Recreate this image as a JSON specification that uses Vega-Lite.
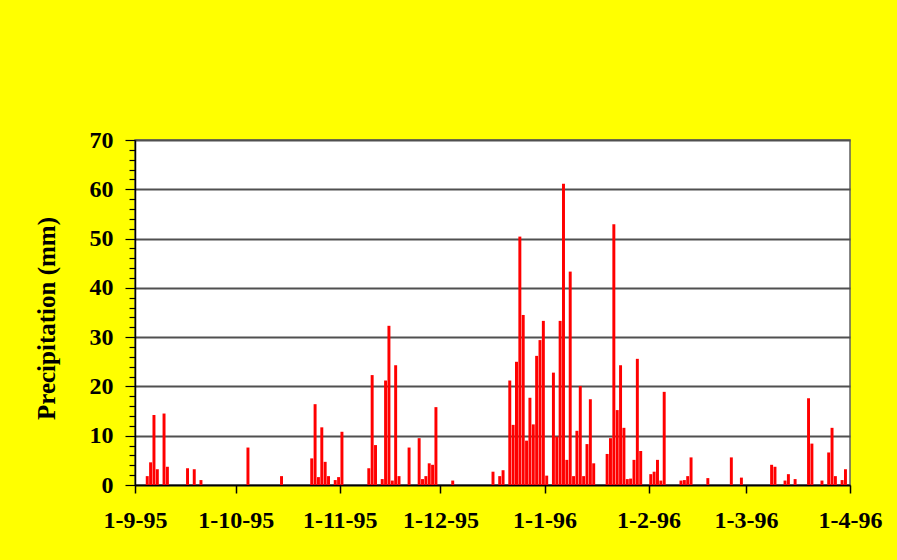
{
  "$schema": "https://vega.github.io/schema/vega-lite/v6.json",
  "width": 715,
  "height": 345,
  "autosize": {"type": "none"},
  "padding": {"left": 135, "top": 140, "right": 47, "bottom": 75},
  "background": "#FFFF00",
  "config": {
    "view": {"fill": "white", "stroke": "#606060", "strokeWidth": 1.5},
    "font": "Liberation Serif"
  },
  "data": {
    "values": [
      {"date": "1995-09-04", "mm": 1.8},
      {"date": "1995-09-05", "mm": 4.6},
      {"date": "1995-09-06", "mm": 14.2},
      {"date": "1995-09-07", "mm": 3.2},
      {"date": "1995-09-09", "mm": 14.5},
      {"date": "1995-09-10", "mm": 3.7},
      {"date": "1995-09-16", "mm": 3.4},
      {"date": "1995-09-18", "mm": 3.2},
      {"date": "1995-09-20", "mm": 1.0},
      {"date": "1995-10-04", "mm": 7.6},
      {"date": "1995-10-14", "mm": 1.8},
      {"date": "1995-10-23", "mm": 5.4},
      {"date": "1995-10-24", "mm": 16.4},
      {"date": "1995-10-25", "mm": 1.6},
      {"date": "1995-10-26", "mm": 11.7},
      {"date": "1995-10-27", "mm": 4.7},
      {"date": "1995-10-28", "mm": 1.8},
      {"date": "1995-10-30", "mm": 1.0},
      {"date": "1995-10-31", "mm": 1.6},
      {"date": "1995-11-01", "mm": 10.8},
      {"date": "1995-11-09", "mm": 3.4},
      {"date": "1995-11-10", "mm": 22.3},
      {"date": "1995-11-11", "mm": 8.1},
      {"date": "1995-11-13", "mm": 1.2},
      {"date": "1995-11-14", "mm": 21.2},
      {"date": "1995-11-15", "mm": 32.3},
      {"date": "1995-11-16", "mm": 0.9},
      {"date": "1995-11-17", "mm": 24.3},
      {"date": "1995-11-18", "mm": 1.8},
      {"date": "1995-11-21", "mm": 7.6},
      {"date": "1995-11-24", "mm": 9.5},
      {"date": "1995-11-25", "mm": 1.2},
      {"date": "1995-11-26", "mm": 1.8},
      {"date": "1995-11-27", "mm": 4.4},
      {"date": "1995-11-28", "mm": 4.1},
      {"date": "1995-11-29", "mm": 15.8},
      {"date": "1995-12-04", "mm": 0.9},
      {"date": "1995-12-16", "mm": 2.7},
      {"date": "1995-12-18", "mm": 1.8},
      {"date": "1995-12-19", "mm": 3.0},
      {"date": "1995-12-21", "mm": 21.2},
      {"date": "1995-12-22", "mm": 12.2},
      {"date": "1995-12-23", "mm": 25.0},
      {"date": "1995-12-24", "mm": 50.4},
      {"date": "1995-12-25", "mm": 34.5},
      {"date": "1995-12-26", "mm": 9.0},
      {"date": "1995-12-27", "mm": 17.7},
      {"date": "1995-12-28", "mm": 12.3},
      {"date": "1995-12-29", "mm": 26.2},
      {"date": "1995-12-30", "mm": 29.4},
      {"date": "1995-12-31", "mm": 33.3},
      {"date": "1996-01-01", "mm": 1.9},
      {"date": "1996-01-03", "mm": 22.8},
      {"date": "1996-01-04", "mm": 9.8},
      {"date": "1996-01-05", "mm": 33.3},
      {"date": "1996-01-06", "mm": 61.1},
      {"date": "1996-01-07", "mm": 5.1},
      {"date": "1996-01-08", "mm": 43.3},
      {"date": "1996-01-09", "mm": 1.8},
      {"date": "1996-01-10", "mm": 11.0},
      {"date": "1996-01-11", "mm": 20.1},
      {"date": "1996-01-12", "mm": 1.8},
      {"date": "1996-01-13", "mm": 8.3},
      {"date": "1996-01-14", "mm": 17.4},
      {"date": "1996-01-15", "mm": 4.4},
      {"date": "1996-01-19", "mm": 6.3},
      {"date": "1996-01-20", "mm": 9.5},
      {"date": "1996-01-21", "mm": 52.9},
      {"date": "1996-01-22", "mm": 15.2},
      {"date": "1996-01-23", "mm": 24.3},
      {"date": "1996-01-24", "mm": 11.6},
      {"date": "1996-01-25", "mm": 1.2},
      {"date": "1996-01-26", "mm": 1.3},
      {"date": "1996-01-27", "mm": 5.1},
      {"date": "1996-01-28", "mm": 25.6},
      {"date": "1996-01-29", "mm": 6.9},
      {"date": "1996-02-01", "mm": 2.2},
      {"date": "1996-02-02", "mm": 2.7},
      {"date": "1996-02-03", "mm": 5.1},
      {"date": "1996-02-04", "mm": 0.9},
      {"date": "1996-02-05", "mm": 18.9},
      {"date": "1996-02-10", "mm": 0.9},
      {"date": "1996-02-11", "mm": 1.0},
      {"date": "1996-02-12", "mm": 1.8},
      {"date": "1996-02-13", "mm": 5.6},
      {"date": "1996-02-18", "mm": 1.4},
      {"date": "1996-02-25", "mm": 5.6},
      {"date": "1996-02-28", "mm": 1.5},
      {"date": "1996-03-08", "mm": 4.1},
      {"date": "1996-03-09", "mm": 3.7},
      {"date": "1996-03-12", "mm": 0.9},
      {"date": "1996-03-13", "mm": 2.2},
      {"date": "1996-03-15", "mm": 1.2},
      {"date": "1996-03-19", "mm": 17.6},
      {"date": "1996-03-20", "mm": 8.4},
      {"date": "1996-03-23", "mm": 0.9},
      {"date": "1996-03-25", "mm": 6.6},
      {"date": "1996-03-26", "mm": 11.6},
      {"date": "1996-03-27", "mm": 1.8},
      {"date": "1996-03-29", "mm": 1.0},
      {"date": "1996-03-30", "mm": 3.2}
    ]
  },
  "mark": {"type": "bar", "color": "#FF0000", "binSpacing": 0.4},
  "encoding": {
    "x": {
      "field": "date",
      "type": "temporal",
      "timeUnit": "utcyearmonthdate",
      "scale": {
        "type": "utc",
        "nice": false,
        "domain": [
          {"year": 1995, "month": 9, "date": 1, "utc": true},
          {"year": 1996, "month": 4, "date": 1, "utc": true}
        ]
      },
      "axis": {
        "title": null,
        "grid": false,
        "values": [
          {"year": 1995, "month": 9, "date": 1, "utc": true},
          {"year": 1995, "month": 10, "date": 1, "utc": true},
          {"year": 1995, "month": 11, "date": 1, "utc": true},
          {"year": 1995, "month": 12, "date": 1, "utc": true},
          {"year": 1996, "month": 1, "date": 1, "utc": true},
          {"year": 1996, "month": 2, "date": 1, "utc": true},
          {"year": 1996, "month": 3, "date": 1, "utc": true},
          {"year": 1996, "month": 4, "date": 1, "utc": true}
        ],
        "labelExpr": "utcFormat(datum.value, '%-d-%-m-%y')",
        "labelFont": "Liberation Serif",
        "labelFontSize": 24,
        "labelFontWeight": "bold",
        "labelColor": "black",
        "labelPadding": 15,
        "labelOverlap": false,
        "labelFlush": false,
        "tickSize": 8,
        "tickColor": "black",
        "tickWidth": 1.5,
        "domainColor": "black",
        "domainWidth": 1.5
      }
    },
    "y": {
      "field": "mm",
      "type": "quantitative",
      "scale": {"domain": [0, 70], "nice": false},
      "axis": {
        "title": "Precipitation (mm)",
        "titleFont": "Liberation Serif",
        "titleFontSize": 25,
        "titleFontWeight": "bold",
        "titleColor": "black",
        "titleX": -89,
        "titleY": 178,
        "titleAngle": -90,
        "titleAlign": "center",
        "titleBaseline": "middle",
        "values": [0, 2, 4, 6, 8, 10, 12, 14, 16, 18, 20, 22, 24, 26, 28, 30, 32, 34, 36, 38, 40, 42, 44, 46, 48, 50, 52, 54, 56, 58, 60, 62, 64, 66, 68, 70],
        "labelExpr": "datum.value % 10 === 0 ? datum.label : ''",
        "labelFont": "Liberation Serif",
        "labelFontSize": 24,
        "labelFontWeight": "bold",
        "labelColor": "black",
        "labelPadding": 12,
        "labelOverlap": false,
        "labelFlush": false,
        "tickColor": "black",
        "tickWidth": 1.2,
        "tickSize": {"condition": {"test": "datum.value % 10 === 0", "value": 10}, "value": 6},
        "grid": true,
        "gridColor": "#505050",
        "gridWidth": 1.8,
        "gridOpacity": {"condition": {"test": "datum.value % 10 === 0", "value": 1}, "value": 0},
        "domainColor": "black",
        "domainWidth": 1.5
      }
    }
  }
}
